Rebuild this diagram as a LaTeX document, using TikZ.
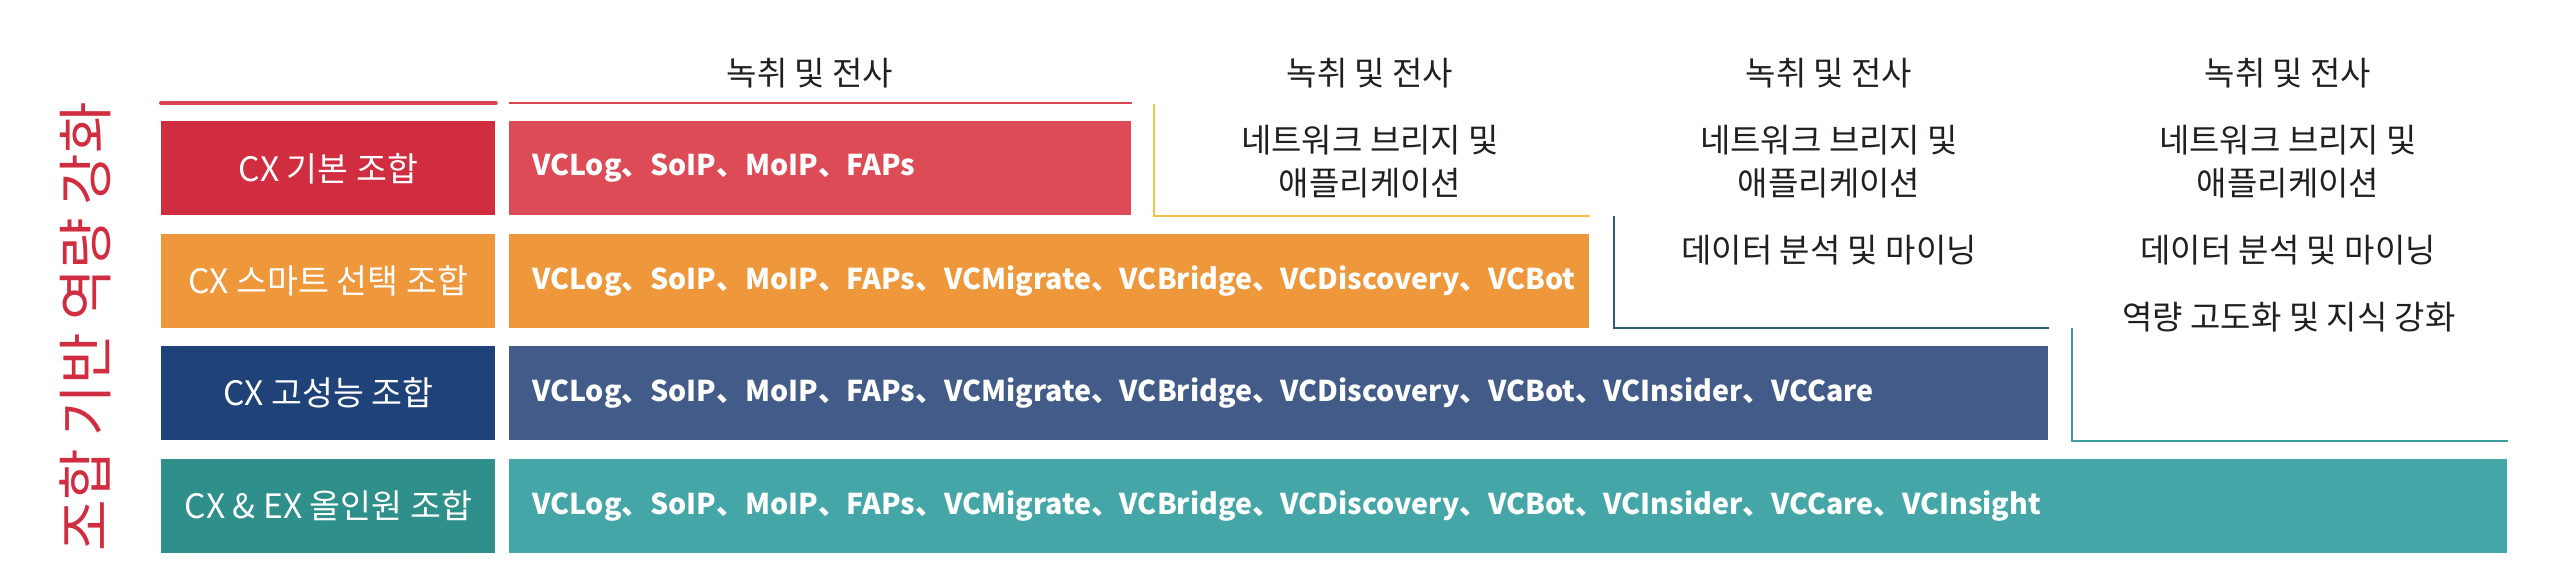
\documentclass[tikz,border=0pt]{standalone}
\usepackage{fontspec}
\usepackage{tikz}
\usetikzlibrary{positioning}
\newfontfamily\krfont{Noto Sans CJK KR}
\definecolor{basicred}{HTML}{D02E40}
\definecolor{basicredlt}{HTML}{DD4B57}
\definecolor{smartorange}{HTML}{EE973B}
\definecolor{perfblue}{HTML}{1F4279}
\definecolor{perfbluelt}{HTML}{425B88}
\definecolor{allteal}{HTML}{2E8F8B}
\definecolor{alltealt}{HTML}{45A6A7}
\definecolor{topred}{HTML}{D94452}
\definecolor{bryellow}{HTML}{F4C24C}
\definecolor{brnavy}{HTML}{2E5E6E}
\definecolor{brteal}{HTML}{3E9E9E}
\definecolor{labelgray}{HTML}{231F20}
\tikzset{
  combo/.style={rectangle, fill=#1, text=white, minimum width=167pt, minimum height=47pt,
    inner sep=0pt, font=\krfont\fontsize{16.8}{19}\selectfont},
  prodbar/.style 2 args={rectangle, fill=#1, text=white, text width=#2, minimum height=47pt,
    inner xsep=11.5pt, inner ysep=0pt, align=left, font=\krfont\bfseries\fontsize{14.3}{16}\selectfont},
  colhead/.style={text=labelgray, font=\krfont\fontsize{16.5}{21.5}\selectfont, align=center, inner sep=0pt},
  bracket/.style={draw=#1, line width=1pt}
}
\begin{document}
\begin{tikzpicture}[x=0.5pt,y=-0.5pt,node distance=8.8pt]
  \useasboundingbox (0,0) rectangle (2560,586);
  \node[combo=basicred, anchor=north west] (c1) at (161,121) {CX 기본 조합};
  \node[combo=smartorange] (c2) [below=of c1] {CX 스마트 선택 조합};
  \node[combo=perfblue] (c3) [below=of c2] {CX 고성능 조합};
  \node[combo=allteal] (c4) [below=of c3] {CX \& EX 올인원 조합};
  \node[prodbar={basicredlt}{288pt}] (p1) [right=6.5pt of c1] {VCLog、SoIP、MoIP、FAPs};
  \node[prodbar={smartorange}{517pt}] (p2) [right=6.5pt of c2] {VCLog、SoIP、MoIP、FAPs、VCMigrate、VCBridge、VCDiscovery、VCBot};
  \node[prodbar={perfbluelt}{746.5pt}] (p3) [right=6.5pt of c3] {VCLog、SoIP、MoIP、FAPs、VCMigrate、VCBridge、VCDiscovery、VCBot、VCInsider、VCCare};
  \node[prodbar={alltealt}{976pt}] (p4) [right=6.5pt of c4] {VCLog、SoIP、MoIP、FAPs、VCMigrate、VCBridge、VCDiscovery、VCBot、VCInsider、VCCare、VCInsight};
  \node[rotate=90, text=basicred, font=\krfont\fontsize{28}{32}\selectfont, inner sep=0pt] (axis) at (85,327) {조합 기반 역량 강화};
  \draw[topred, line width=2pt, line cap=round] ([yshift=9pt]c1.north west) -- ([yshift=9pt]c1.north east);
  \draw[topred, line width=1pt] ([yshift=9pt]p1.north west) -- ([yshift=9pt]p1.north east);
  \draw[bracket=bryellow] ([xshift=11pt,yshift=8.5pt]p1.north east) |- (p1.south -| p2.east);
  \draw[bracket=brnavy] ([xshift=12pt,yshift=8.8pt]p2.north east) |- (p2.south -| p3.east);
  \draw[bracket=brteal] ([xshift=11.5pt,yshift=8.8pt]p3.north east) |- (p3.south -| p4.east);
  \foreach \cx [count=\i] in {810,1370,1829,2288}
    \node[colhead] (rec\i) at (\cx,73) {녹취 및 전사};
  \foreach \cx [count=\i from 2] in {1370,1829,2288}
    \node[colhead] (net\i) at (\cx,161.5) {네트워크 브리지 및\\애플리케이션};
  \foreach \cx [count=\i from 3] in {1829,2288}
    \node[colhead] (data\i) at (\cx,250) {데이터 분석 및 마이닝};
  \node[colhead] (know4) at (2289,317) {역량 고도화 및 지식 강화};
\end{tikzpicture}
\end{document}
